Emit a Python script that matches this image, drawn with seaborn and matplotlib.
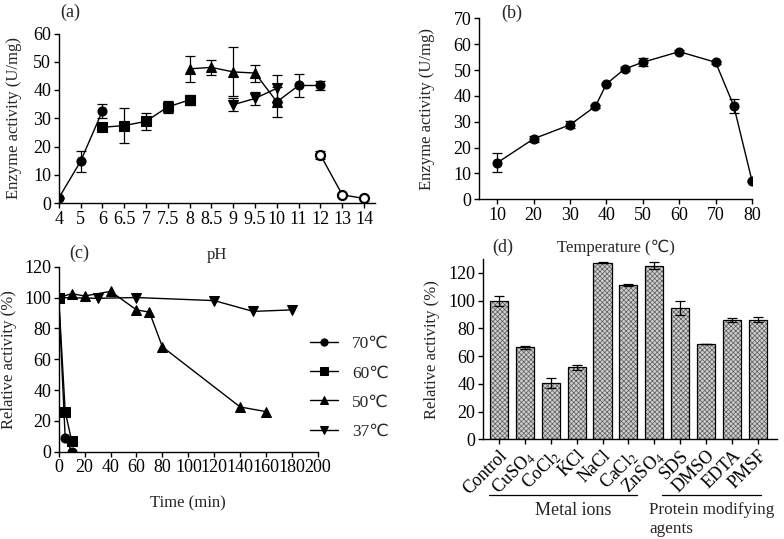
import numpy as np
import pandas as pd
import matplotlib
matplotlib.use("Agg")
import matplotlib.pyplot as plt
from matplotlib.patches import Rectangle
import seaborn as sns

# ---- (a) pH profile ----
ph_labels = ["4", "5", "6", "6.5", "7", "7.5", "8", "8.5", "9", "9.5", "10", "11", "12", "13", "14"]
ph_circle = ["4", "5", "6"]
act_circle = [1.7, 14.7, 32.5]
err_circle = [0.0, 3.6, 2.5]
ph_square = ["6", "6.5", "7", "7.5", "8"]
act_square = [26.8, 27.4, 28.9, 34.0, 36.5]
err_square = [0.0, 6.2, 2.9, 2.1, 1.8]
ph_tri = ["8", "8.5", "9", "9.5", "10"]
act_tri = [47.5, 48.0, 46.4, 46.0, 35.8]
err_tri = [4.5, 2.6, 8.7, 3.0, 0.0]
ph_vtri = ["9", "9.5", "10"]
act_vtri = [34.8, 37.0, 40.6]
err_vtri = [2.2, 2.4, 4.8]
ph_dot = ["10", "11", "12"]
act_dot = [35.8, 41.6, 41.6]
err_dot = [5.3, 4.2, 1.6]
ph_open = ["12", "13", "14"]
act_open = [17.0, 2.9, 1.6]
err_open = [1.3, 0.0, 0.0]

# ---- (b) temperature profile ----
temp = [10, 20, 30, 37, 40, 45, 50, 60, 70, 75, 80]
act_temp = [14.1, 23.4, 28.8, 36.0, 44.6, 50.4, 53.0, 57.1, 53.0, 36.1, 7.1]
err_temp = [3.7, 1.2, 1.3, 0.5, 0.5, 0.8, 1.5, 0.5, 0.5, 2.7, 0.3]

# ---- (c) thermostability ----
t70 = [0, 5, 10]
r70 = [100, 9, 0]
t60 = [0, 5, 10]
r60 = [100, 26, 7]
t50 = [0, 10, 20, 40, 60, 70, 80, 140, 160]
r50 = [100, 102.5, 101, 104, 92, 90.5, 68, 29, 26]
t37 = [0, 30, 60, 120, 150, 180]
r37 = [100, 99.5, 100, 98, 91, 92]

# ---- (d) effect of additives ----
additives = ["Control", "CuSO$_4$", "CoCl$_2$", "KCl", "NaCl", "CaCl$_2$", "ZnSO$_4$",
             "SDS", "DMSO", "EDTA", "PMSF"]
rel_act = [99.8, 66.3, 40.3, 51.8, 127.3, 111.3, 125.1, 94.7, 68.7, 85.8, 86.3]
rel_err = [3.5, 1.0, 3.6, 2.0, 0.4, 0.5, 2.6, 5.0, 0.3, 1.3, 1.8]

sns.set_style("ticks")
plt.rcParams["font.family"] = ["Liberation Serif", "DejaVu Sans"]
plt.rcParams["mathtext.fontset"] = "stix"
plt.rcParams["font.size"] = 12
plt.rcParams["axes.labelsize"] = 12
plt.rcParams["xtick.labelsize"] = 13
plt.rcParams["ytick.labelsize"] = 13
plt.rcParams["axes.linewidth"] = 1.0
plt.rcParams["xtick.major.width"] = 1.0
plt.rcParams["ytick.major.width"] = 1.0
plt.rcParams["xtick.major.size"] = 3.5
plt.rcParams["ytick.major.size"] = 3.5
plt.rcParams["xtick.color"] = "black"
plt.rcParams["ytick.color"] = "black"
plt.rcParams["axes.edgecolor"] = "black"
plt.rcParams["hatch.linewidth"] = 0.5

W, H = 784, 539
fig = plt.figure(figsize=(W / 100, H / 100), dpi=100)


def px_axes(l, t, r, b):
    return fig.add_axes([l / W, 1 - b / H, (r - l) / W, (b - t) / H])


ax_a = px_axes(58.7, 33.5, 375, 203)
ax_b = px_axes(479, 18.3, 752, 199.3)
ax_c = px_axes(58.7, 266.7, 318, 451.7)
ax_d = px_axes(482.7, 259, 776.7, 439.3)

line_kw = dict(color="black", linewidth=1.0, markersize=6.5, markeredgecolor="black")
err_kw = dict(fmt="none", ecolor="black", elinewidth=0.9, capsize=3.5, capthick=0.9)

# ---- panel a ----
def pos(labels):
    return [ph_labels.index(v) for v in labels]

series_a = [
    (ph_tri, act_tri, err_tri, "^", "black"),
    (ph_vtri, act_vtri, err_vtri, "v", "black"),
    (ph_circle, act_circle, err_circle, "o", "black"),
    (ph_square, act_square, err_square, "s", "black"),
    (ph_dot, act_dot, err_dot, "o", "black"),
    (ph_open, act_open, err_open, "o", "white"),
]
for phs, acts, errs, mk, fc in series_a:
    xs = pos(phs)
    ax_a.errorbar(xs, acts, yerr=errs, **err_kw)
    sns.lineplot(x=xs, y=acts, marker=mk, markerfacecolor=fc,
                 markeredgewidth=1.6 if fc == "white" else 0.8, ax=ax_a, **line_kw)
ax_a.set_xlim(0, 14.5)
ax_a.set_ylim(0, 60)
ax_a.set_xticks(range(len(ph_labels)))
ax_a.set_xticklabels(ph_labels)
ax_a.set_yticks(range(0, 61, 10))
ax_a.set_xlabel("pH")
ax_a.xaxis.set_label_coords(0.5, -0.26)
ax_a.set_ylabel("Enzyme activity (U/mg)")
ax_a.yaxis.set_label_coords(-0.116, 0.5)

# ---- panel b ----
ax_b.errorbar(temp, act_temp, yerr=err_temp, **err_kw)
sns.lineplot(x=temp, y=act_temp, marker="o", ax=ax_b, **line_kw)
ax_b.set_xlim(5, 80)
ax_b.set_ylim(0, 70)
ax_b.set_xticks(range(10, 81, 10))
ax_b.set_yticks(range(0, 71, 10))
ax_b.set_xlabel("Temperature (℃)")
ax_b.xaxis.set_label_coords(0.5, -0.22)
ax_b.set_ylabel("Enzyme activity (U/mg)")
ax_b.yaxis.set_label_coords(-0.161, 0.5)

# ---- panel c ----
for ts, rs, mk, lab in [(t70, r70, "o", "70℃"), (t60, r60, "s", "60℃"),
                        (t50, r50, "^", "50℃"), (t37, r37, "v", "37℃")]:
    sns.lineplot(x=ts, y=rs, marker=mk, label=lab, ax=ax_c, **line_kw)
ax_c.set_xlim(0, 200)
ax_c.set_ylim(0, 120)
ax_c.set_xticks(range(0, 201, 20))
ax_c.set_yticks(range(0, 121, 20))
ax_c.set_xlabel("Time (min)")
ax_c.xaxis.set_label_coords(0.5, -0.235)
ax_c.set_ylabel("Relative activity (%)")
ax_c.yaxis.set_label_coords(-0.161, 0.5)
ax_c.legend(loc="upper left", bbox_to_anchor=(0.91, 0.71), frameon=False,
            handlelength=1.6, labelspacing=0.75, markerscale=0.8, fontsize=12.5)

# ---- panel d ----
df_d = pd.DataFrame({"additive": additives, "activity": rel_act})
sns.barplot(data=df_d, x="additive", y="activity", color="#cfcfcf", width=0.7,
            saturation=1, ax=ax_d)
for p in list(ax_d.patches):
    p.set_hatch("xxxxxxx")
    p.set_edgecolor("#5a5a5a")
    p.set_linewidth(0)
    ax_d.add_patch(Rectangle(p.get_xy(), p.get_width(), p.get_height(),
                             fill=False, edgecolor="black", linewidth=0.9, zorder=3))
ax_d.errorbar(range(len(additives)), rel_act, yerr=rel_err, zorder=4, **err_kw)
ax_d.set_xlim(-0.63, 10.73)
ax_d.set_ylim(0, 130)
ax_d.set_yticks(range(0, 121, 20))
ax_d.set_xlabel("")
ax_d.set_ylabel("Relative activity (%)")
ax_d.yaxis.set_label_coords(-0.145, 0.5)
ax_d.set_xticks(range(len(additives)))
ax_d.set_xticklabels(additives, rotation=45, ha="right", rotation_mode="anchor")

# group brackets under labels
tr = ax_d.get_xaxis_transform()
ax_d.plot([-0.39, 5.33], [-0.31, -0.31], color="black", lw=0.9, transform=tr, clip_on=False)
ax_d.plot([6.29, 10.14], [-0.31, -0.31], color="black", lw=0.9, transform=tr, clip_on=False)
ax_d.text(2.85, -0.35, "Metal ions", transform=tr, ha="center", va="top", fontsize=13)
ax_d.text(5.8, -0.35, "Protein modifying\nagents", transform=tr, ha="left", va="top",
          linespacing=1.2, fontsize=12.3)

for ax in (ax_a, ax_b, ax_c, ax_d):
    sns.despine(ax=ax)
    ax.tick_params(direction="out", pad=2)

# panel letters
for lab, x, y in [("(a)", 70.7, 12), ("(b)", 511.7, 13), ("(c)", 79, 253), ("(d)", 503, 247)]:
    fig.text(x / W, 1 - y / H, lab, ha="center", va="center", fontsize=13)

fig.savefig("out.png", dpi=100)
